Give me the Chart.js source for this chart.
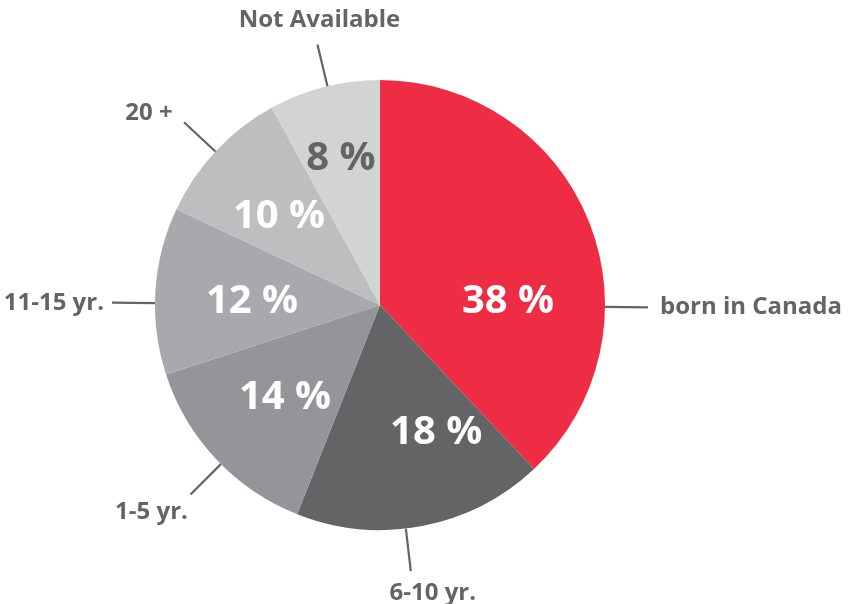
<!DOCTYPE html>
<html>
<head>
<meta charset="utf-8">
<script src="https://cdn.jsdelivr.net/npm/chart.js@4"></script>
<style>
    html, body { margin: 0; padding: 0; background: #fff; }
    #wrap { width: 848px; height: 604px; position: relative; }
</style>
</head>
<body>
<div id="wrap"><canvas id="pie"></canvas></div>
<script>
// Years since arrival, share of respondents
const categories = ['born in Canada', '6-10 yr.', '1-5 yr.', '11-15 yr.', '20 +', 'Not Available'];
const shares = [38, 18, 14, 12, 10, 8];
const sliceColors = ['#ee2d45', '#636466', '#939598', '#a7a9ac', '#bcbec0', '#d1d3d4'];
const valueColors = ['#ffffff', '#ffffff', '#ffffff', '#ffffff', '#ffffff', '#636466'];

// Where the value text sits inside each slice (degrees clockwise from top, distance from centre)
const valueSpots = [[88.7, 128], [156.2, 139], [225.6, 133], [271.3, 128], [311.1, 134], [345.1, 152]];

// Callouts: leader angle, text offset from leader end, alignment
const callouts = [
    { angle: 90.5, dx: 12, dy: 0, align: 'left' },
    { angle: 173.4, dx: 22, dy: 22, align: 'center' },
    { angle: 225, dx: -39, dy: 18, align: 'center' },
    { angle: 270.5, dx: -8, dy: 0, align: 'right' },
    { angle: 313, dx: -35, dy: -9, align: 'center' },
    { angle: 346.5, dx: 2, dy: -24, align: 'center' }
];

const FONT = '"Open Sans", sans-serif';

function polar(cx, cy, deg, r) {
    const a = deg * Math.PI / 180;
    return { x: cx + r * Math.sin(a), y: cy - r * Math.cos(a) };
}

const pieLabels = {
    id: 'pieLabels',
    afterDatasetsDraw(chart) {
        const ctx = chart.ctx;
        const arcs = chart.getDatasetMeta(0).data;
        if (!arcs.length) return;
        const cx = arcs[0].x, cy = arcs[0].y, r = arcs[0].outerRadius;

        ctx.save();
        ctx.textBaseline = 'middle';

        // values inside the slices
        ctx.font = 'bold 40px ' + FONT;
        ctx.textAlign = 'center';
        shares.forEach(function(v, i) {
            const p = polar(cx, cy, valueSpots[i][0], valueSpots[i][1]);
            ctx.fillStyle = valueColors[i];
            ctx.fillText(v + ' %', p.x, p.y);
        });

        // leader lines and category names
        ctx.strokeStyle = '#636466';
        ctx.lineWidth = 2.2;
        ctx.fillStyle = '#636466';
        ctx.font = 'bold 24px ' + FONT;
        callouts.forEach(function(c, i) {
            const a = polar(cx, cy, c.angle, r);
            const b = polar(cx, cy, c.angle, r + 43);
            ctx.beginPath();
            ctx.moveTo(a.x, a.y);
            ctx.lineTo(b.x, b.y);
            ctx.stroke();
            ctx.textAlign = c.align;
            ctx.fillText(categories[i], b.x + c.dx, b.y + c.dy);
        });
        ctx.restore();
    }
};

new Chart(document.getElementById('pie'), {
    type: 'pie',
    data: {
        labels: categories,
        datasets: [{
            data: shares,
            backgroundColor: sliceColors,
            borderWidth: 0,
            hoverOffset: 0
        }]
    },
    options: {
        responsive: true,
        maintainAspectRatio: false,
        animation: false,
        layout: { padding: { left: 100, right: 188, top: 80, bottom: 74 } },
        plugins: {
            legend: { display: false },
            tooltip: { enabled: false }
        }
    },
    plugins: [pieLabels]
});
</script>
</body>
</html>
